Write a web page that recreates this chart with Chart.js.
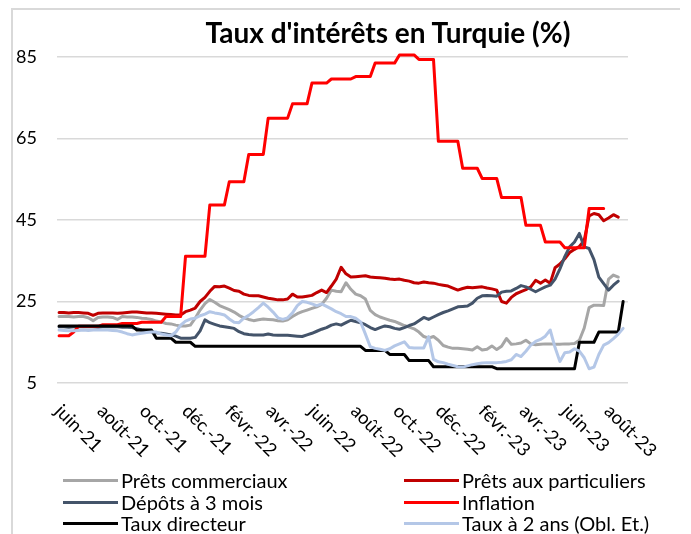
<!DOCTYPE html>
<html><head><meta charset="utf-8">
<script src="https://cdn.jsdelivr.net/npm/chart.js@4.4.0/dist/chart.umd.min.js"></script>
<style>
html,body{margin:0;padding:0;background:#fff;}
#wrap{position:relative;width:691px;height:534px;overflow:hidden;font-family:Lato,"Open Sans",sans-serif;color:#000;}
#frame{position:absolute;left:11px;top:8px;width:667px;height:600px;border-top:2px solid #d9d9d9;border-left:2px solid #d9d9d9;}
#title{position:absolute;top:14px;left:88px;width:600px;text-align:center;font-weight:bold;font-size:28px;line-height:36px;}
canvas{position:absolute;left:0;top:0;}
.leg{position:absolute;height:22px;display:flex;align-items:center;font-size:20px;white-space:nowrap;}
.leg i{display:inline-block;width:55px;height:3px;margin-right:3px;}
</style>
</head><body>
<div id="wrap">
<div id="frame"></div>
<canvas id="c" width="691" height="534"></canvas>
<div id="title">Taux d'intérêts en Turquie (%)</div>
<div id="legend"></div>
</div>
<script>
// ---- categories: weekly observations (Fridays) from 4 June 2021 ----
const firstWeek = '2021-06-04';
const weekCount = 117;
const axisStart = '2021-06-01';
const axisEnd = '2023-09-01';
const tickLabels = ['juin-21','août-21','oct.-21','déc.-21','févr.-22','avr.-22','juin-22','août-22','oct.-22','déc.-22','févr.-23','avr.-23','juin-23','août-23'];
const tickDates = ['2021-06-01','2021-08-01','2021-10-01','2021-12-01','2022-02-01','2022-04-01','2022-06-01','2022-08-01','2022-10-01','2022-12-01','2023-02-01','2023-04-01','2023-06-01','2023-08-01'];
const yTicks = [5,25,45,65,85];

const seriesNames = ['Prêts commerciaux','Prêts aux particuliers','Dépôts à 3 mois','Inflation','Taux directeur','Taux à 2 ans (Obl. Et.)'];

const pretsCommerciaux = [
21.3,21.4,21.3,21.2,21.3,21.3,21.0,20.3,21.1,21.2,21.2,21.1,20.6,21.3,21.2,21.2,21.1,20.9,20.8,20.6,
20.2,20.0,19.6,19.5,19.2,19.0,19.0,19.2,20.9,22.9,24.5,25.5,24.8,24.0,23.5,23.0,22.4,21.6,21.0,20.6,
20.3,20.5,20.7,20.6,20.5,20.3,20.2,20.5,21.3,22.0,22.5,22.9,23.3,23.7,24.3,25.8,27.8,27.5,27.4,29.6,
28.0,26.8,26.4,25.6,22.8,21.8,21.2,20.8,20.4,20.1,19.6,19.1,18.7,18.3,17.5,16.4,16.0,16.4,15.5,14.2,
13.8,13.5,13.5,13.4,13.3,13.1,13.9,13.1,13.3,14.1,13.2,14.0,15.9,14.5,14.6,14.8,15.5,14.6,14.4,14.5,
14.6,14.6,14.5,14.5,14.6,14.6,14.7,15.5,18.5,23.5,24.1,24.1,24.0,30.5,31.5,31.0,null];

const pretsParticuliers = [
22.3,22.3,22.2,22.3,22.3,22.2,22.1,21.6,22.1,22.2,22.2,22.2,22.1,22.2,22.3,22.4,22.4,22.3,22.2,22.2,
22.1,22.0,21.9,21.8,21.7,21.7,22.5,22.9,23.4,25.0,26.0,27.5,28.7,28.6,28.8,28.3,27.7,27.5,26.8,26.5,
26.4,26.4,26.1,25.8,25.6,25.4,25.4,25.6,26.8,26.1,26.1,26.3,26.5,27.2,27.8,27.2,28.8,30.5,33.4,31.8,
31.0,31.1,31.2,31.3,31.0,30.9,30.8,30.7,30.5,30.4,30.5,30.2,30.0,29.6,29.5,29.8,29.6,29.5,29.2,29.0,
28.8,28.3,27.8,28.2,28.5,28.4,28.5,28.6,28.3,28.1,27.8,25.0,24.6,26.0,26.9,27.4,27.9,28.6,30.2,29.5,
30.3,29.5,33.3,34.2,35.5,37.0,37.8,38.5,40.0,46.0,46.6,46.3,44.8,45.5,46.3,45.7,null];

const depots3Mois = [
18.8,18.8,18.7,18.8,18.8,18.8,18.8,18.8,18.7,18.8,18.8,18.8,18.8,18.7,18.7,18.6,18.3,18.0,17.8,17.6,
17.3,17.2,17.0,16.8,16.5,16.0,16.0,16.0,16.2,17.8,20.5,19.8,19.4,19.0,18.8,18.6,18.4,17.6,17.1,16.9,
16.8,16.8,16.8,17.0,16.8,16.7,16.7,16.7,16.6,16.5,16.4,16.8,17.2,17.7,18.2,18.6,19.2,19.5,19.2,19.8,
20.4,20.1,19.8,19.3,18.6,18.1,18.6,19.0,18.8,18.4,18.2,18.6,19.1,19.5,20.3,21.1,20.6,21.2,21.8,22.3,
22.7,23.2,23.7,23.8,23.9,24.6,25.8,26.4,26.5,26.4,26.3,27.3,27.5,27.6,28.2,28.9,28.6,28.0,27.4,28.0,
28.6,29.0,30.5,33.0,36.0,38.4,39.6,41.7,38.4,38.0,35.3,31.0,29.4,27.8,29.0,30.0,null];

const inflation = [
16.6,16.6,16.6,17.5,18.9,18.9,18.9,18.9,18.9,19.3,19.3,19.3,19.3,19.6,19.6,19.6,19.6,19.9,19.9,19.9,
19.9,19.9,21.3,21.3,21.3,21.3,36.1,36.1,36.1,36.1,36.1,48.7,48.7,48.7,48.7,54.4,54.4,54.4,54.4,61.1,
61.1,61.1,61.1,70.0,70.0,70.0,70.0,70.0,73.5,73.5,73.5,73.5,78.6,78.6,78.6,78.6,79.6,79.6,79.6,79.6,
79.6,80.2,80.2,80.2,80.2,83.5,83.5,83.5,83.5,83.5,85.5,85.5,85.5,85.5,84.4,84.4,84.4,84.4,64.3,64.3,
64.3,64.3,64.3,57.7,57.7,57.7,57.7,55.2,55.2,55.2,55.2,50.5,50.5,50.5,50.5,50.5,43.7,43.7,43.7,43.7,
39.6,39.6,39.6,39.6,38.2,38.2,38.2,38.2,38.2,47.8,47.8,47.8,47.8,null,null,null,null];

const tauxDirecteur = [
19,19,19,19,19,19,19,19,19,19,19,19,19,19,19,19,18,18,18,18,
16,16,16,16,15,15,15,15,14,14,14,14,14,14,14,14,14,14,14,14,
14,14,14,14,14,14,14,14,14,14,14,14,14,14,14,14,14,14,14,14,
14,14,14,13,13,13,13,13,12,12,12,12,10.5,10.5,10.5,10.5,10.5,9,9,9,
9,9,9,9,9,9,9,9,9,9,8.5,8.5,8.5,8.5,8.5,8.5,8.5,8.5,8.5,8.5,
8.5,8.5,8.5,8.5,8.5,8.5,8.5,15,15,15,15,17.5,17.5,17.5,17.5,17.5,25];

const taux2Ans = [
18.0,17.9,17.8,17.8,17.9,18.0,17.9,18.0,18.0,18.0,18.0,17.9,17.8,17.5,17.1,16.8,17.0,17.2,17.4,17.5,
17.5,17.0,16.8,16.6,17.5,19.2,20.2,20.7,20.9,21.5,21.9,22.5,22.2,22.0,21.7,20.7,19.9,19.8,20.9,21.6,
22.5,23.5,24.6,23.6,22.4,21.0,20.6,21.0,22.2,24.0,25.0,24.8,24.4,24.0,24.4,23.8,23.2,22.5,22.0,21.3,
21.3,20.9,20.0,17.0,13.9,13.5,13.3,13.0,13.4,14.1,14.6,15.1,13.7,13.6,13.6,13.6,16.4,10.8,10.2,10.0,
9.6,9.3,9.0,8.9,9.2,9.5,9.7,9.9,10.0,10.0,10.0,10.1,10.3,10.7,12.0,11.5,12.8,14.3,15.2,15.7,
16.5,18.0,13.7,10.3,12.4,12.6,13.4,12.8,11.2,8.5,8.9,12.0,14.3,14.9,15.9,17.0,18.4];

const colors = ['#A6A6A6','#C00000','#44546A','#FF0000','#000000','#B4C7E7'];

// ---- helpers ----
const DAY = 86400000;
const t0 = Date.parse(axisStart + 'T00:00:00Z');
const dayOf = s => (Date.parse(s + 'T00:00:00Z') - t0) / DAY;
const firstDay = dayOf(firstWeek);
const weekDays = Array.from({length: weekCount}, (_, i) => firstDay + 7 * i);
const tickDays = tickDates.map(dayOf);
const toPts = arr => arr.map((v, i) => ({x: weekDays[i], y: v}));

const allSeries = [pretsCommerciaux, pretsParticuliers, depots3Mois, inflation, tauxDirecteur, taux2Ans];

const xLabels = {
  id: 'xLabels',
  afterDraw(chart) {
    const {ctx} = chart;
    const x = chart.scales.x;
    ctx.save();
    ctx.font = '18.5px Lato, "Open Sans", sans-serif';
    ctx.fillStyle = '#000';
    ctx.textAlign = 'left';
    ctx.textBaseline = 'middle';
    tickDays.forEach((d, k) => {
      const px = x.getPixelForValue(d);
      ctx.save();
      ctx.translate(px + 1, 408);
      ctx.rotate(Math.PI / 4);
      ctx.fillText(tickLabels[k], 0, 0);
      ctx.restore();
    });
    ctx.restore();
  }
};

new Chart(document.getElementById('c'), {
  type: 'line',
  data: {
    datasets: allSeries.map((arr, k) => ({
      label: seriesNames[k],
      data: toPts(arr),
      borderColor: colors[k],
      backgroundColor: colors[k],
      borderWidth: 3,
      pointRadius: 0,
      tension: 0,
      fill: false,
      spanGaps: false,
      clip: false,
      borderJoinStyle: 'round',
      borderCapStyle: 'round',
      order: 6 - k
    }))
  },
  options: {
    responsive: false,
    animation: false,
    devicePixelRatio: 1,
    layout: {padding: {left: 12, right: 63, top: 57, bottom: 0}},
    plugins: {legend: {display: false}, title: {display: false}, tooltip: {enabled: false}},
    scales: {
      x: {
        type: 'linear',
        min: dayOf(axisStart),
        max: dayOf(axisEnd),
        grid: {display: false},
        border: {display: false},
        ticks: {display: false},
        afterFit(s) { s.height = 151; }
      },
      y: {
        min: 5, max: 85,
        afterBuildTicks(s) { s.ticks = yTicks.map(v => ({value: v})); },
        grid: {color: '#D9D9D9', lineWidth: 1.5, drawTicks: false},
        border: {display: false},
        ticks: {padding: 20, color: '#000', font: {family: 'Lato, "Open Sans", sans-serif', size: 18}},
        afterFit(s) { s.width = 45; }
      }
    }
  },
  plugins: [xLabels]
});

// ---- legend (HTML, two columns) ----
const legPos = [[63,469],[404,469],[63,491],[404,491],[63,512],[404,512]];
const legEl = document.getElementById('legend');
seriesNames.forEach((n, k) => {
  const d = document.createElement('div');
  d.className = 'leg';
  d.style.left = legPos[k][0] + 'px';
  d.style.top = legPos[k][1] + 'px';
  d.innerHTML = '<i style="background:' + colors[k] + '"></i><span>' + n + '</span>';
  legEl.appendChild(d);
});
</script>
</body></html>
